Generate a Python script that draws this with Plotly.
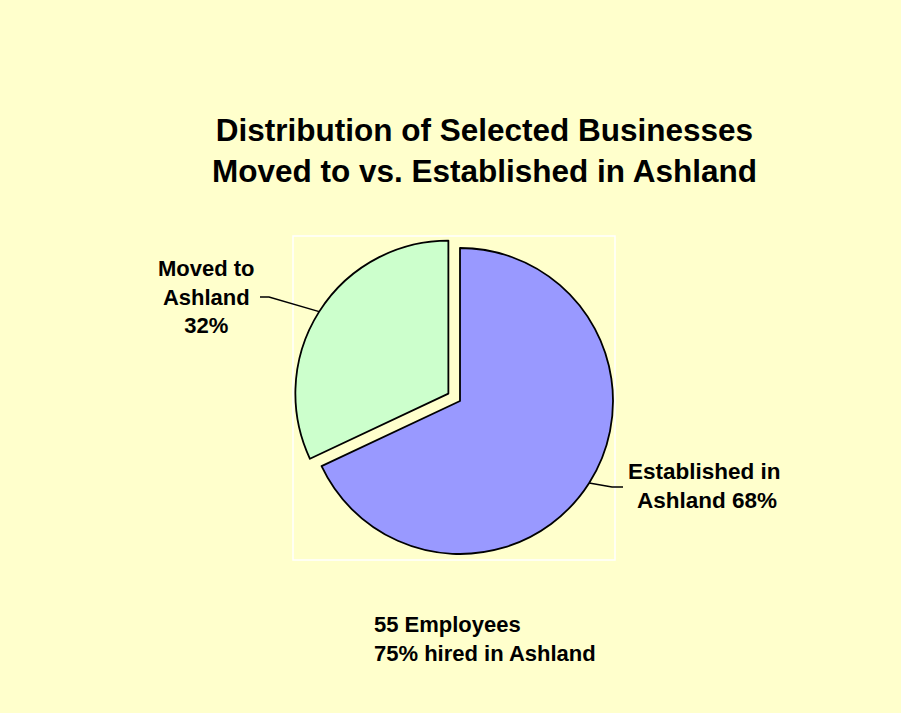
import math
import plotly.graph_objects as go

# ---- data ----
categories = ["Established in Ashland", "Moved to Ashland"]
values = [68, 32]
colors = ["#9999FF", "#CCFFCC"]
pulls = [0.0, 0.09]
label_texts = ["Established in<br> Ashland 68%", "Moved to<br>Ashland<br>32%"]
title_text = "Distribution of Selected Businesses<br>Moved to vs. Established in Ashland"
note_text = "55 Employees<br>75% hired in Ashland"

W, H = 901, 713
BG = "#FFFFCC"

def px(x):
    return x / W

def py(y):
    return 1 - y / H

# pie geometry (pixels)
cx, cy, r = 460, 401, 153
maxpull = max(pulls)
half = r * (1 + maxpull)

fig = go.Figure()
fig.add_trace(go.Pie(
    labels=categories, values=values, sort=False, direction="clockwise",
    rotation=0, pull=pulls, textinfo="none", hoverinfo="label+percent",
    marker=dict(colors=colors, line=dict(color="black", width=1.8)),
    domain=dict(x=[px(cx - half), px(cx + half)], y=[py(cy + half), py(cy - half)]),
    showlegend=False,
))

# slice midpoint angles (from 12 o'clock, clockwise) from data
total = sum(values)
mids = []
acc = 0
for v in values:
    mids.append((acc + v / 2) / total * 2 * math.pi)
    acc += v

def edge_point(i):
    a = mids[i]
    dx, dy = math.sin(a), -math.cos(a)
    off = pulls[i] * r
    return cx + dx * (r + off), cy + dy * (r + off)

shapes = []
# plot area border
shapes.append(dict(type="rect", xref="paper", yref="paper",
                   x0=px(293), x1=px(615), y0=py(560), y1=py(236),
                   line=dict(color="white", width=1.5)))
# leader lines
ex, ey = edge_point(1)
shapes.append(dict(type="path", xref="paper", yref="paper",
                   path=f"M {px(ex)} {py(ey)} L {px(269)} {py(297)} L {px(260)} {py(297)}",
                   line=dict(color="black", width=1.5)))
ex, ey = edge_point(0)
shapes.append(dict(type="path", xref="paper", yref="paper",
                   path=f"M {px(ex)} {py(ey)} L {px(612)} {py(487)} L {px(623)} {py(487)}",
                   line=dict(color="black", width=1.5)))

font = "Liberation Sans, Arial, sans-serif"
annotations = [
    dict(text=f"<b>{title_text}</b>", x=px(484), y=py(151), xref="paper", yref="paper",
         showarrow=False, xanchor="center", yanchor="middle",
         font=dict(family=font, size=31.5, color="black")),
    dict(text=f"<b>{label_texts[1]}</b>", x=px(206), y=py(297), xref="paper", yref="paper",
         showarrow=False, xanchor="center", yanchor="middle", align="center",
         font=dict(family=font, size=22, color="black")),
    dict(text=f"<b>{label_texts[0]}</b>", x=px(704), y=py(486), xref="paper", yref="paper",
         showarrow=False, xanchor="center", yanchor="middle", align="center",
         font=dict(family=font, size=22.5, color="black")),
    dict(text=f"<b>{note_text}</b>", x=px(372), y=py(639), xref="paper", yref="paper",
         showarrow=False, xanchor="left", yanchor="middle", align="left",
         font=dict(family=font, size=22, color="black")),
]

fig.update_layout(
    width=W, height=H, margin=dict(l=0, r=0, t=0, b=0),
    paper_bgcolor=BG, plot_bgcolor=BG,
    shapes=shapes, annotations=annotations,
)
fig.write_html("out.html")
